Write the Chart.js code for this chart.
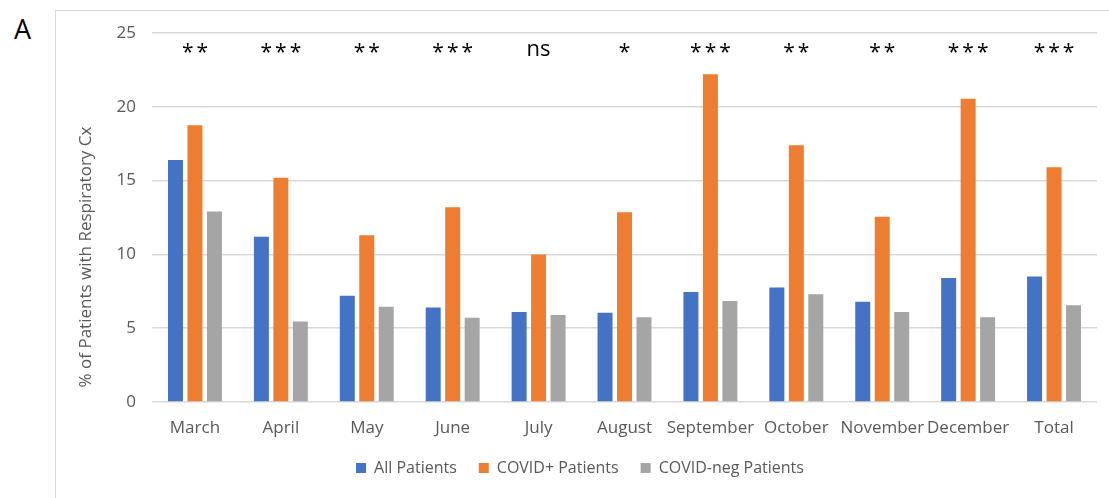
<!DOCTYPE html>
<html>
<head>
<meta charset="utf-8">
<script src="https://cdn.jsdelivr.net/npm/chart.js@4"></script>
<style>
    html, body { margin: 0; padding: 0; background: #fff; overflow: hidden; }
    #frame {
        position: absolute; left: 55px; top: 10px; width: 1100px; height: 600px;
        border: 1.5px solid #d9d9d9; box-sizing: border-box;
    }
    #panel {
        position: absolute; left: 14px; top: 10px;
        font: 27px "Open Sans", sans-serif; color: #000;
    }
    #wrap { position: absolute; left: 0; top: 0; width: 1109px; height: 498px; }
</style>
</head>
<body>
<div id="frame"></div>
<div id="panel">A</div>
<div id="wrap"><canvas id="respChart"></canvas></div>
<script>
const months = ['March', 'April', 'May', 'June', 'July', 'August', 'September', 'October', 'November', 'December', 'Total'];
const allPatients = [16.4, 11.2, 7.2, 6.4, 6.1, 6.05, 7.45, 7.75, 6.8, 8.4, 8.5];
const covidPos = [18.75, 15.2, 11.3, 13.2, 10.0, 12.85, 22.2, 17.4, 12.55, 20.55, 15.9];
const covidNeg = [12.9, 5.45, 6.45, 5.7, 5.9, 5.75, 6.85, 7.3, 6.1, 5.75, 6.55];
const significance = ['**', '***', '**', '***', 'ns', '*', '***', '**', '**', '***', '***'];
const yTicks = [0, 5, 10, 15, 20, 25];

const textGrey = '#595959';

// significance marks above each month + rotated y title
const extrasPlugin = {
    id: 'extras',
    afterDraw: function(chart) {
        const ctx = chart.ctx;
        const xScale = chart.scales.x;
        ctx.save();
        ctx.fillStyle = '#000';
        ctx.textAlign = 'center';
        ctx.textBaseline = 'alphabetic';
        significance.forEach(function(label, i) {
            const x = xScale.getPixelForValue(i);
            if (label === 'ns') {
                ctx.letterSpacing = '0px';
                ctx.font = '22px "Open Sans", sans-serif';
                ctx.fillText(label, x, 56);
            } else {
                ctx.letterSpacing = '3px';
                ctx.font = '21px "Open Sans", sans-serif';
                ctx.fillText(label, x + 1.5, 59);
            }
        });
        ctx.letterSpacing = '0px';
        ctx.translate(86, 257);
        ctx.rotate(-Math.PI / 2);
        ctx.fillStyle = textGrey;
        ctx.font = '17px "Open Sans", sans-serif';
        ctx.textBaseline = 'middle';
        ctx.fillText('% of Patients with Respiratory Cx', 0, 0);
        ctx.restore();
    }
};

new Chart(document.getElementById('respChart').getContext('2d'), {
    type: 'bar',
    data: {
        labels: months,
        datasets: [
            { label: 'All Patients', data: allPatients, backgroundColor: '#4472C4' },
            { label: 'COVID+ Patients', data: covidPos, backgroundColor: '#ED7D31' },
            { label: 'COVID-neg Patients', data: covidNeg, backgroundColor: '#A5A5A5' }
        ]
    },
    options: {
        responsive: true,
        maintainAspectRatio: false,
        animation: false,
        datasets: {
            bar: { categoryPercentage: 0.68, barPercentage: 0.77 }
        },
        layout: { padding: { left: 63, right: 12, top: 33, bottom: 12 } },
        plugins: {
            tooltip: { enabled: false },
            legend: {
                position: 'bottom',
                labels: {
                    boxWidth: 10,
                    boxHeight: 10,
                    padding: 22,
                    color: textGrey,
                    font: { family: '"Open Sans", sans-serif', size: 16 }
                }
            }
        },
        scales: {
            x: {
                grid: { display: false },
                border: { display: false },
                ticks: {
                    color: textGrey,
                    padding: 8,
                    maxRotation: 0,
                    autoSkip: false,
                    font: { family: '"Open Sans", sans-serif', size: 17 }
                },
                afterFit: function(scale) { scale.height = 36; }
            },
            y: {
                min: 0,
                max: 25,
                afterBuildTicks: function(scale) {
                    scale.ticks = yTicks.map(function(v) { return { value: v }; });
                },
                grid: { color: '#d9d9d9', lineWidth: 1.5, drawTicks: false },
                border: { display: false },
                ticks: {
                    color: textGrey,
                    padding: 16,
                    font: { family: '"Open Sans", sans-serif', size: 17 }
                },
                afterFit: function(scale) { scale.width = 152 - 63; }
            }
        }
    },
    plugins: [extrasPlugin]
});
</script>
</body>
</html>
